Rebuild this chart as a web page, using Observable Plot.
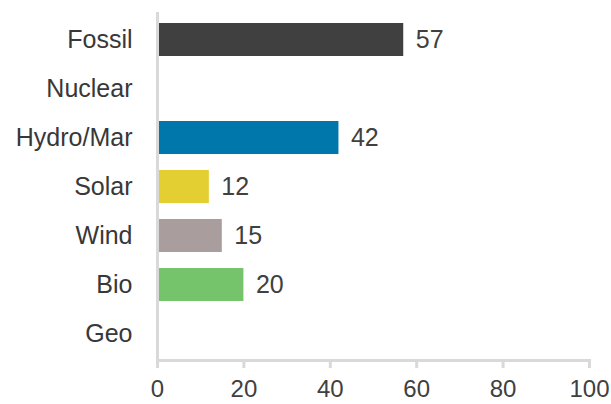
<!DOCTYPE html>
<html><head><meta charset="utf-8">
<script src="https://cdn.jsdelivr.net/npm/d3@7"></script>
<script src="https://cdn.jsdelivr.net/npm/@observablehq/plot@0.6"></script>
<style>
body{margin:0;background:#fff;}
</style>
</head><body>
<div id="chart"></div>
<script>
const categories = ["Fossil","Nuclear","Hydro/Mar","Solar","Wind","Bio","Geo"];
const values = [57, null, 42, 12, 15, 20, null];
const colors = ["#404040","#404040","#0077aa","#e4cf33","#aa9d9e","#75c46b","#404040"];
const xTicks = [0,20,40,60,80,100];

const data = categories.map((c,i)=>({cat:c, value:values[i], color:colors[i]}));
const bars = data.filter(d=>d.value!=null);

const chart = Plot.plot({
  width: 611,
  height: 404,
  marginTop: 12,
  marginBottom: 44,
  marginLeft: 157,
  marginRight: 22,
  style: {fontFamily: "'Liberation Sans', Arial, sans-serif", background: "#fff", color: "#404040"},
  x: {domain: [0,100], ticks: xTicks, label: null},
  y: {domain: categories, paddingInner: 0.33, paddingOuter: 0.165, label: null},
  marks: [
    Plot.barX(bars, {x: "value", y: "cat", fill: d=>d.color}),
    Plot.text(bars, {x: "value", y: "cat", text: d=>String(d.value), textAnchor: "start", dx: 12, fontSize: 25, fill: "#404040"}),
    Plot.frame({anchor: "bottom", stroke: "#d9d9d9", strokeWidth: 3}),
    Plot.ruleX([0], {stroke: "#d9d9d9", strokeWidth: 3}),
    Plot.axisX({ticks: xTicks, tickSize: 8, tickPadding: 11, fontSize: 24, stroke: "#d9d9d9", strokeWidth: 3, fill: "#404040", label: null, tickFormat: d=>String(d)}),
    Plot.axisY({tickSize: 0, tickPadding: 25, fontSize: 25, fill: "#383838", label: null})
  ]
});
document.getElementById("chart").appendChild(chart);
</script>
</body></html>
